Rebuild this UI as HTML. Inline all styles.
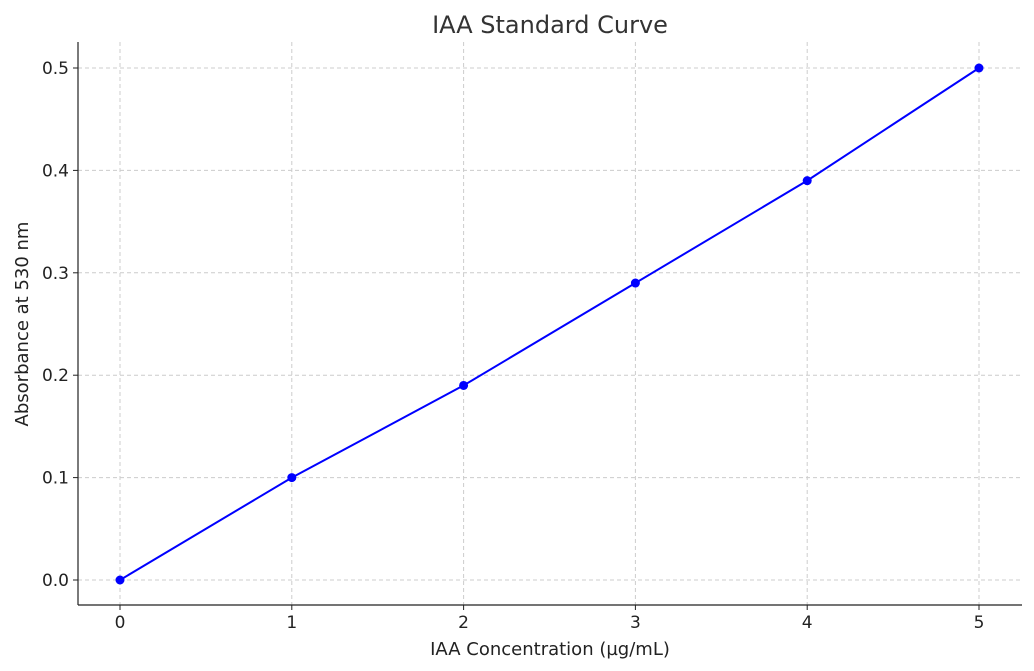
<!DOCTYPE html>
<html><head><meta charset="utf-8"><style>
body{margin:0;background:#fff;}
svg{display:block;font-family:"DejaVu Sans","Liberation Sans",sans-serif;}
</style></head><body>
<svg id="chart" width="1034" height="671">
<text x="550" y="33" text-anchor="middle" font-size="24" fill="#333">IAA Standard Curve</text>
<g id="grid"></g>
<g id="axes"></g>
<g id="series"></g>
<text x="550" y="655" text-anchor="middle" font-size="18" fill="#222">IAA Concentration (µg/mL)</text>
<text transform="translate(28,324) rotate(-90)" text-anchor="middle" font-size="18" fill="#222">Absorbance at 530 nm</text>
</svg>
<script>
const concentrations=[0,1,2,3,4,5];
const absorbance=[0,0.10,0.19,0.29,0.39,0.50];
const xTicks=[0,1,2,3,4,5];
const yTicks=[0.0,0.1,0.2,0.3,0.4,0.5];
const NS="http://www.w3.org/2000/svg";
const L=78,R=1022,T=42,B=605;
function xs(v){return 120+v*(979-120)/5;}
function ys(v){return 580-v*(580-68)/0.5;}
function mk(parent,tag,attrs){const e=document.createElementNS(NS,tag);for(const k in attrs)e.setAttribute(k,attrs[k]);document.getElementById(parent).appendChild(e);return e;}
xTicks.forEach(t=>{
 const g=mk('grid','line',{x1:xs(t),x2:xs(t),y1:T,y2:B,stroke:'#ccc','stroke-dasharray':'4,3','stroke-width':1});
 
 
 const k=mk('axes','line',{x1:xs(t),x2:xs(t),y1:B,y2:B+5,stroke:'#222'});
 
 
 const l=mk('axes','text',{x:xs(t),y:628,'text-anchor':'middle','font-size':17,fill:'#222'});
 l.textContent=t;
 
 
});
yTicks.forEach(t=>{
 const g=mk('grid','line',{x1:L,x2:R,y1:ys(t),y2:ys(t),stroke:'#ccc','stroke-dasharray':'4,3','stroke-width':1});
 
 
 const k=mk('axes','line',{x1:L-5,x2:L,y1:ys(t),y2:ys(t),stroke:'#222'});
 
 
 const l=mk('axes','text',{x:L-9,y:ys(t)+6,'text-anchor':'end','font-size':17,fill:'#222'});
 l.textContent=t.toFixed(1);
 
 
});
const sl=mk('axes','line',{x1:L,x2:L,y1:T,y2:B,stroke:'#222','stroke-width':1.2});


const sb=mk('axes','line',{x1:L,x2:R,y1:B,y2:B,stroke:'#222','stroke-width':1.2});


const pts=concentrations.map((c,i)=>xs(c)+','+ys(absorbance[i])).join(' ');
const pl=mk('series','polyline',{points:pts,fill:'none',stroke:'#0000ff','stroke-width':2});


concentrations.forEach((c,i)=>{
 const p=mk('series','circle',{cx:xs(c),cy:ys(absorbance[i]),r:4.5,fill:'#0000ff'});
 
 
});
</script>
</body></html>
